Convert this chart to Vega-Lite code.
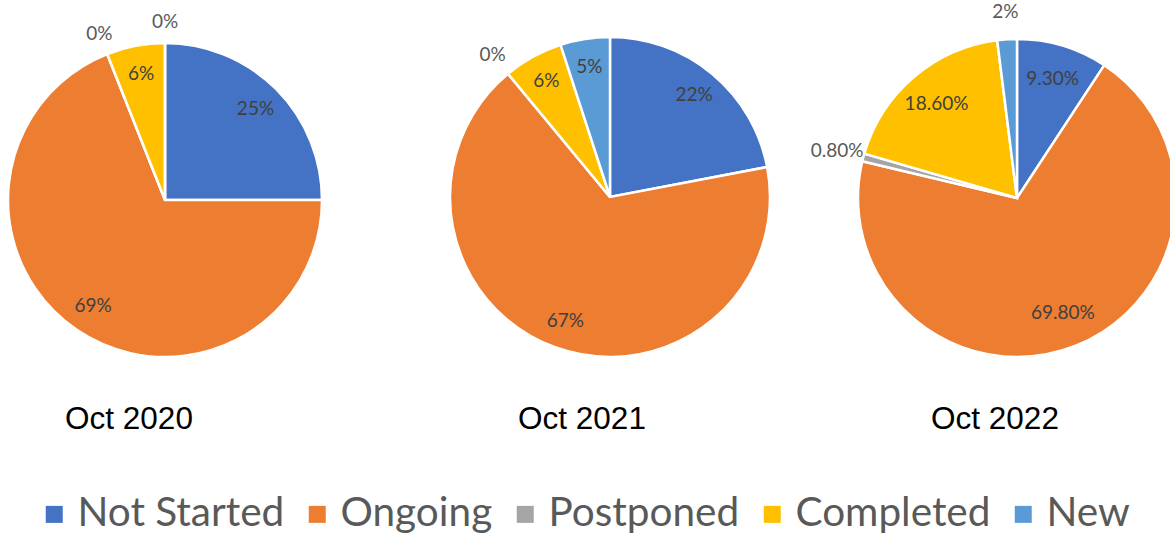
{
  "$schema": "https://vega.github.io/schema/vega-lite/v6.json",
  "padding": 0,
  "background": "white",
  "bounds": "flush",
  "spacing": 120,
  "data": {
    "values": [
      {"year": "Oct 2020", "k": 1, "status": "Not Started", "value": 25, "label": "25%"},
      {"year": "Oct 2020", "k": 2, "status": "Ongoing", "value": 69, "label": "69%"},
      {"year": "Oct 2020", "k": 3, "status": "Postponed", "value": 0, "label": "0%"},
      {"year": "Oct 2020", "k": 4, "status": "Completed", "value": 6, "label": "6%"},
      {"year": "Oct 2020", "k": 5, "status": "New", "value": 0, "label": "0%"},
      {"year": "Oct 2021", "k": 1, "status": "Not Started", "value": 22, "label": "22%"},
      {"year": "Oct 2021", "k": 2, "status": "Ongoing", "value": 67, "label": "67%"},
      {"year": "Oct 2021", "k": 3, "status": "Postponed", "value": 0, "label": "0%"},
      {"year": "Oct 2021", "k": 4, "status": "Completed", "value": 6, "label": "6%"},
      {"year": "Oct 2021", "k": 5, "status": "New", "value": 5, "label": "5%"},
      {"year": "Oct 2022", "k": 1, "status": "Not Started", "value": 9.3, "label": "9.30%"},
      {"year": "Oct 2022", "k": 2, "status": "Ongoing", "value": 69.8, "label": "69.80%"},
      {"year": "Oct 2022", "k": 3, "status": "Postponed", "value": 0.8, "label": "0.80%"},
      {"year": "Oct 2022", "k": 4, "status": "Completed", "value": 18.6, "label": "18.60%"},
      {"year": "Oct 2022", "k": 5, "status": "New", "value": 2, "label": "2%"}
    ]
  },
  "config": {
    "view": {"stroke": null},
    "font": "Lato",
    "title": {"font": "Liberation Sans", "fontSize": 31.5, "fontWeight": "normal", "color": "#000000", "orient": "bottom", "baseline": "top", "frame": "group", "anchor": "middle"},
    "legend": {
      "orient": "none",
      "legendX": 34,
      "legendY": 494,
      "direction": "horizontal",
      "title": null,
      "symbolType": "square",
      "symbolSize": 289,
      "symbolStrokeWidth": 0,
      "labelFont": "Lato",
      "labelFontSize": 40.5,
      "labelColor": "#595959",
      "labelLimit": 400,
      "labelOffset": 3,
      "columnPadding": 12,
      "padding": 0
    }
  },
  "resolve": {"scale": {"theta": "independent", "color": "shared"}, "legend": {"color": "shared"}},
  "hconcat": [
    {
      "width": 330,
      "height": 400,
      "title": {"text": "Oct 2020", "dx": -36, "offset": 4},
      "transform": [{"filter": "datum.year == 'Oct 2020'"}],
      "encoding": {
        "theta": {"field": "value", "type": "quantitative", "stack": true},
        "order": {"field": "k", "type": "quantitative"}
      },
      "layer": [
        {
          "mark": {"type": "arc", "radius": 157, "stroke": "white", "strokeWidth": 2.5},
          "encoding": {
            "color": {"field": "status", "type": "nominal", "sort": ["Not Started", "Ongoing", "Postponed", "Completed", "New"],
              "scale": {"domain": ["Not Started", "Ongoing", "Postponed", "Completed", "New"], "range": ["#4472C4", "#ED7D31", "#A5A5A5", "#FFC000", "#5B9BD5"]}}
          }
        },
        {
          "mark": {"type": "text", "radius": 128, "fontSize": 19, "font": "Lato"},
          "encoding": {
            "detail": {"field": "status"},
            "color": {"value": "#404040"},
            "text": {"condition": {"test": "datum.value >= 3", "field": "label"}, "value": ""}
          }
        },
        {
          "mark": {"type": "text", "radius": 178, "fontSize": 19, "font": "Lato"},
          "encoding": {
            "detail": {"field": "status"},
            "color": {"value": "#595959"},
            "text": {"condition": {"test": "datum.value < 3", "field": "label"}, "value": ""}
          }
        }
      ]
    },
    {
      "width": 320,
      "height": 394,
      "title": {"text": "Oct 2021", "dx": -28, "offset": 10},
      "transform": [{"filter": "datum.year == 'Oct 2021'"}],
      "encoding": {
        "theta": {"field": "value", "type": "quantitative", "stack": true},
        "order": {"field": "k", "type": "quantitative"}
      },
      "layer": [
        {
          "mark": {"type": "arc", "radius": 160, "stroke": "white", "strokeWidth": 2.5},
          "encoding": {
            "color": {"field": "status", "type": "nominal", "sort": ["Not Started", "Ongoing", "Postponed", "Completed", "New"],
              "scale": {"domain": ["Not Started", "Ongoing", "Postponed", "Completed", "New"], "range": ["#4472C4", "#ED7D31", "#A5A5A5", "#FFC000", "#5B9BD5"]}}
          }
        },
        {
          "mark": {"type": "text", "radius": 132, "fontSize": 19, "font": "Lato"},
          "encoding": {
            "detail": {"field": "status"},
            "color": {"value": "#404040"},
            "text": {"condition": {"test": "datum.value >= 3", "field": "label"}, "value": ""}
          }
        },
        {
          "mark": {"type": "text", "radius": 184, "fontSize": 19, "font": "Lato"},
          "encoding": {
            "detail": {"field": "status"},
            "color": {"value": "#595959"},
            "text": {"condition": {"test": "datum.value < 3", "field": "label"}, "value": ""}
          }
        }
      ]
    },
    {
      "width": 254,
      "height": 396,
      "title": {"text": "Oct 2022", "dx": -22, "offset": 8},
      "transform": [{"filter": "datum.year == 'Oct 2022'"}],
      "encoding": {
        "theta": {"field": "value", "type": "quantitative", "stack": true},
        "order": {"field": "k", "type": "quantitative"}
      },
      "layer": [
        {
          "mark": {"type": "arc", "radius": 159, "stroke": "white", "strokeWidth": 2.5},
          "encoding": {
            "color": {"field": "status", "type": "nominal", "sort": ["Not Started", "Ongoing", "Postponed", "Completed", "New"],
              "scale": {"domain": ["Not Started", "Ongoing", "Postponed", "Completed", "New"], "range": ["#4472C4", "#ED7D31", "#A5A5A5", "#FFC000", "#5B9BD5"]}}
          }
        },
        {
          "mark": {"type": "text", "radius": 124, "fontSize": 19, "font": "Lato"},
          "encoding": {
            "detail": {"field": "status"},
            "color": {"value": "#404040"},
            "text": {"condition": {"test": "datum.value >= 3", "field": "label"}, "value": ""}
          }
        },
        {
          "mark": {"type": "text", "radius": 186, "fontSize": 19, "font": "Lato"},
          "encoding": {
            "detail": {"field": "status"},
            "color": {"value": "#595959"},
            "text": {"condition": {"test": "datum.value < 3", "field": "label"}, "value": ""}
          }
        }
      ]
    }
  ]
}
